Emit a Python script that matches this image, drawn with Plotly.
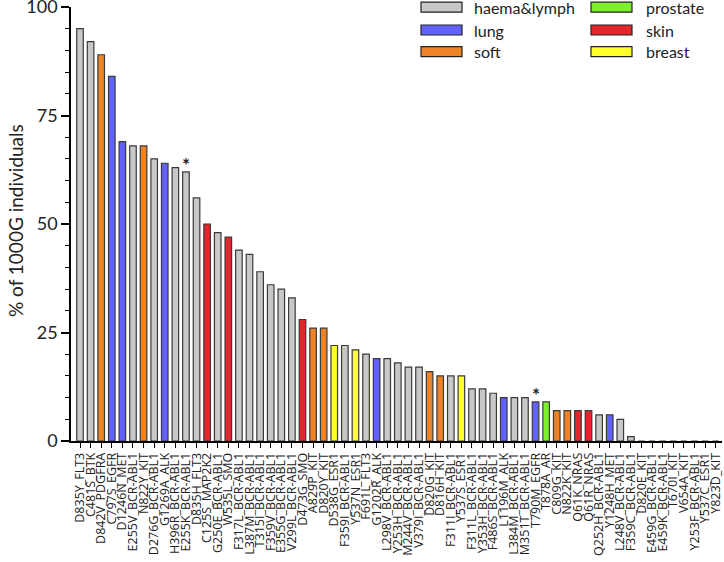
import plotly.graph_objects as go

labels = ["D835Y_FLT3","C481S_BTK","D842V_PDGFRA","C797S_EGFR","D1246N_MET","E255V_BCR-ABL1",
          "N822Y_KIT","D276G_BCR-ABL1","G1269A_ALK","H396R_BCR-ABL1","E255K_BCR-ABL1","D835H_FLT3",
          "C125S_MAP2K2","G250E_BCR-ABL1","W535L_SMO","F317L_BCR-ABL1","L387M_BCR-ABL1","T315I_BCR-ABL1",
          "F359V_BCR-ABL1","E355G_BCR-ABL1","V299L_BCR-ABL1","D473G_SMO","A829P_KIT","D820Y_KIT",
          "D538G_ESR1","F359I_BCR-ABL1","Y537N_ESR1","F691L_FLT3","G1202R_ALK","L298V_BCR-ABL1",
          "Y253H_BCR-ABL1","M244V_BCR-ABL1","V379I_BCR-ABL1","D820G_KIT","D816H_KIT","F311I_BCR-ABL1",
          "Y537S_ESR1","F311L_BCR-ABL1","Y353H_BCR-ABL1","F486S_BCR-ABL1","L1196M_ALK","L384M_BCR-ABL1",
          "M351T_BCR-ABL1","T790M_EGFR","T878A_AR","C809G_KIT","N822K_KIT","Q61K_NRAS","Q61R_NRAS",
          "Q252H_BCR-ABL1","Y1248H_MET","L248V_BCR-ABL1","F359C_BCR-ABL1","D820E_KIT","E459G_BCR-ABL1",
          "E459K_BCR-ABL1","T670I_KIT","V654A_KIT","Y253F_BCR-ABL1","Y537C_ESR1","Y823D_KIT"]
values = [95,92,89,84,69,68,68,65,64,63,62,56,50,48,47,44,43,39,36,35,33,28,26,26,22,22,21,20,19,19,
          18,17,17,16,15,15,15,12,12,11,10,10,10,9,9,7,7,7,7,6,6,5,1,0,0,0,0,0,0,0,0]
tissue = ["haem","haem","soft","lung","lung","haem","soft","haem","lung","haem","haem","haem",
          "skin","haem","skin","haem","haem","haem","haem","haem","haem","skin","soft","soft",
          "breast","haem","breast","haem","lung","haem","haem","haem","haem","soft","soft","haem",
          "breast","haem","haem","haem","lung","haem","haem","lung","prostate","soft","soft","skin","skin",
          "haem","lung","haem","haem","haem","haem","haem","haem","haem","haem","haem","haem"]
starred = ["E255K_BCR-ABL1","T790M_EGFR"]
y_ticks = [0, 25, 50, 75, 100]

legend_names = {"haem":"haema&lymph","lung":"lung","soft":"soft","prostate":"prostate","skin":"skin","breast":"breast"}
colors = {"haem":"#c8c8c8","lung":"#6262fa","soft":"#ee8326","prostate":"#7cf02a","skin":"#e2262a","breast":"#ffff2a"}

FONT = "Lato"
fig = go.Figure()
fig.add_trace(go.Bar(
    x=labels, y=values,
    marker=dict(color=[colors[t] for t in tissue], line=dict(color="#3a3a3a", width=1.2)),
    width=0.62, showlegend=False, hoverinfo="skip"))

for s in starred:
    i = labels.index(s)
    fig.add_annotation(x=s, y=values[i], text="<b>*</b>", showarrow=False, yanchor="bottom",
                       yshift=-6, font=dict(size=19, color="#222", family=FONT))

# legend drawn manually
W, H = 651.0, 434.0
def px(x): return (x - 71) / W
def py(y): return (441 - y) / H
order = [("haem", 421, 472, 7.2), ("lung", 421, 472, 30), ("soft", 421, 472, 51.7),
         ("prostate", 591, 644, 7.2), ("skin", 591, 644, 30), ("breast", 591, 644, 51.7)]
for key, bx, tx, cy in order:
    fig.add_shape(type="rect", xref="paper", yref="paper",
                  x0=px(bx), x1=px(bx + 41), y0=py(cy - 5), y1=py(cy + 5),
                  fillcolor=colors[key], line=dict(color="#222", width=1.2))
    fig.add_annotation(xref="paper", yref="paper", x=px(tx), y=py(cy), xanchor="left",
                       yanchor="middle", text=legend_names[key], showarrow=False,
                       font=dict(size=16, color="#222", family=FONT))

fig.add_annotation(xref="paper", yref="paper", x=px(15), y=py(221), text="% of 1000G individuals",
                   textangle=-90, showarrow=False, xanchor="center", yanchor="middle",
                   font=dict(size=19, color="#222", family=FONT))

fig.update_layout(
    width=724, height=562, margin=dict(l=71, r=2, t=7, b=121, autoexpand=False),
    plot_bgcolor="white", paper_bgcolor="white", bargap=0.38,
    font=dict(family=FONT, color="#222"),
    xaxis=dict(range=[-0.85, 60.6], tickangle=-90, tickmode="array", tickvals=labels, ticktext=labels,
               tickfont=dict(size=12.5, family="Open Sans", color="#222"), automargin=False,
               showline=True, linecolor="black", linewidth=1.5, ticks="outside", ticklen=5,
               tickcolor="black", tickwidth=1.2, showgrid=False, zeroline=False,
               ticklabeloverflow="allow"),
    yaxis=dict(range=[0, 100], tickmode="array", tickvals=y_ticks, showline=True, linecolor="black",
               linewidth=1.5, ticks="outside", ticklen=8, tickcolor="black", tickwidth=1.5,
               tickfont=dict(size=18, family=FONT, color="#222"), showgrid=False, zeroline=False,
               ticklabeloverflow="allow", automargin=False,
               minor=dict(tickvals=[v for v in range(5, 100, 5) if v % 25], ticks="outside",
                          ticklen=4, tickcolor="black", tickwidth=1.2)),
)
fig.write_html("out.html", config={"displayModeBar": False},
               post_script="document.body.style.margin='0';document.body.style.overflow='hidden';")
